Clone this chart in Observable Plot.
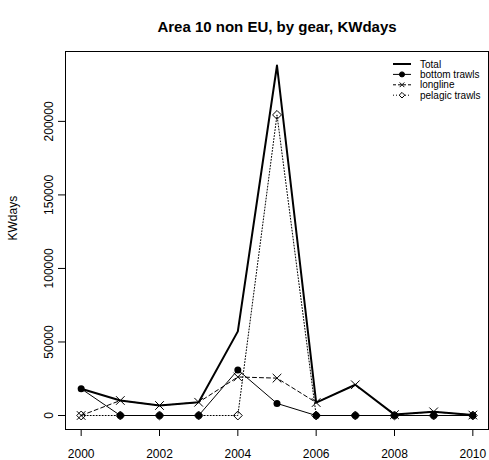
<!DOCTYPE html>
<html>
<head>
<meta charset="utf-8">
<script src="https://cdn.jsdelivr.net/npm/d3@7"></script>
<script src="https://cdn.jsdelivr.net/npm/@observablehq/plot@0.6"></script>
<style>
  body { margin: 0; background: #fff; }
  svg { display: block; }
</style>
</head>
<body>
<div id="chart"></div>
<script>
// Fishing effort (KWdays) in Area 10, non-EU vessels, by gear
const years = [2000, 2001, 2002, 2003, 2004, 2005, 2006, 2007, 2008, 2009, 2010];
const total = [18200, 10200, 6800, 9000, 57200, 238000, 8800, 20900, 600, 2500, 300];
const bottomTrawls = [18200, 0, 0, 0, 31000, 8200, 0, 0, 0, 0, 0];
const longline = [0, 10200, 6800, 9000, 26200, 25400, 8800, 20900, 600, 2500, 300];
const pelagicTrawls = [0, 0, 0, 0, 0, 204400, 0, 0, 0, 0, 0];

const xTicks = [2000, 2002, 2004, 2006, 2008, 2010];
const yTicks = [0, 50000, 100000, 150000, 200000];
const seriesNames = ["Total", "bottom trawls", "longline", "pelagic trawls"];

const toRows = (name, values) => years.map((year, i) => ({series: name, year, value: values[i]}));
const totalRows = toRows(seriesNames[0], total);
const bottomRows = toRows(seriesNames[1], bottomTrawls);
const longlineRows = toRows(seriesNames[2], longline);
const pelagicRows = toRows(seriesNames[3], pelagicTrawls);

// padded domains (4% each side of the data range)
const yMax = d3.max(total);
const yPad = yMax * 0.04;
const xPad = (years[years.length - 1] - years[0]) * 0.04;

const font = "'Liberation Sans', Arial, Helvetica, sans-serif";

const chart = Plot.plot({
  width: 489,
  height: 460,
  marginTop: 51,
  marginRight: 1,
  marginBottom: 31,
  marginLeft: 65,
  style: {fontFamily: font, fontSize: "12px", color: "#000", background: "#fff", overflow: "visible"},
  x: {domain: [years[0] - xPad, years[years.length - 1] + xPad]},
  y: {domain: [-yPad, yMax + yPad]},
  marks: [
    Plot.frame({stroke: "#000", strokeWidth: 1}),
    Plot.axisX({ticks: xTicks, tickSize: 7, tickPadding: 13, tickFormat: d => String(d), label: null, fontSize: 12}),
    Plot.axisY({ticks: yTicks, tickSize: 7, tickPadding: 6, tickRotate: -90, tickFormat: d => String(d), label: null, fontSize: 12}),
    Plot.text(["KWdays"], {text: d => d, frameAnchor: "left", dx: -52, rotate: -90, fontSize: 12}),
    Plot.text(["Area 10 non EU, by gear, KWdays"], {text: d => d, frameAnchor: "top", dy: -30, fontWeight: "bold", fontSize: 15}),

    Plot.lineY(totalRows, {x: "year", y: "value", stroke: "#000", strokeWidth: 2}),

    Plot.lineY(bottomRows, {x: "year", y: "value", stroke: "#000", strokeWidth: 1}),
    Plot.dot(bottomRows, {x: "year", y: "value", symbol: "circle", r: 3.5, fill: "#000", stroke: "none"}),

    Plot.lineY(longlineRows, {x: "year", y: "value", stroke: "#000", strokeWidth: 1, strokeDasharray: "4,3"}),
    Plot.dot(longlineRows, {x: "year", y: "value", symbol: "times", r: 4, stroke: "#000", strokeWidth: 1}),

    Plot.lineY(pelagicRows, {x: "year", y: "value", stroke: "#000", strokeWidth: 1, strokeDasharray: "1,2"}),
    Plot.dot(pelagicRows, {x: "year", y: "value", symbol: "diamond2", r: 4, fill: "none", stroke: "#000", strokeWidth: 1})
  ]
});

// legend in the top-right corner of the panel
const svg = d3.select(chart);
const legend = svg.append("g")
  .attr("font-family", font)
  .attr("font-size", 10)
  .attr("text-anchor", "start");
const legendStyles = [
  {dash: null, width: 2, symbol: null},
  {dash: null, width: 1, symbol: d3.symbolCircle, fill: "#000", size: 20},
  {dash: "3,2", width: 1, symbol: d3.symbolTimes, fill: "none", size: 16},
  {dash: "1,2", width: 1, symbol: d3.symbolDiamond2, fill: "none", size: 20}
];
seriesNames.forEach((name, i) => {
  const y = 64 + i * 10.4;
  const s = legendStyles[i];
  legend.append("line")
    .attr("x1", 393).attr("x2", 411).attr("y1", y).attr("y2", y)
    .attr("stroke", "#000").attr("stroke-width", s.width)
    .attr("stroke-dasharray", s.dash);
  if (s.symbol) {
    legend.append("path")
      .attr("transform", `translate(402,${y})`)
      .attr("d", d3.symbol(s.symbol, s.size)())
      .attr("fill", s.fill === "#000" ? "#000" : "#fff")
      .attr("stroke", "#000").attr("stroke-width", 1);
  }
  legend.append("text")
    .attr("x", 420).attr("y", y).attr("dy", "0.35em")
    .attr("text-anchor", "start")
    .text(name);
});

document.getElementById("chart").appendChild(chart);
</script>
</body>
</html>
